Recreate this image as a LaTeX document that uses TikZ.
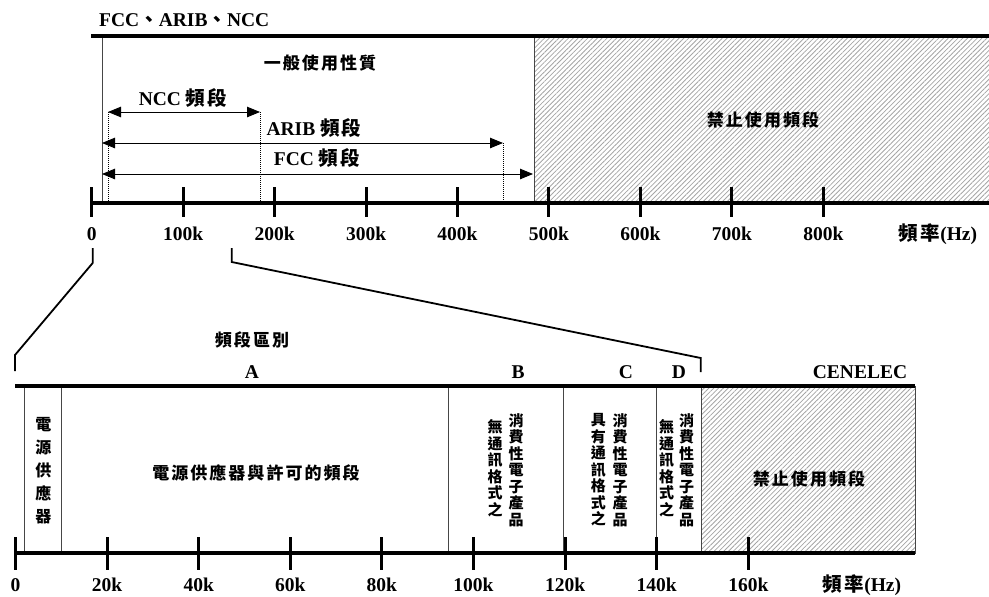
\documentclass[tikz,border=0pt]{standalone}
\usepackage{fontspec}
\setmainfont{Liberation Serif}
\newfontfamily\zhfont{Noto Sans CJK TC}[LetterSpace=12]
\newfontfamily\zhvfont{Noto Sans CJK TC}
\usetikzlibrary{arrows.meta,patterns.meta}
\definecolor{hatchGray}{RGB}{165,165,165}
\definecolor{edgeGray}{RGB}{70,70,70}
\newcommand{\zh}[1]{{\zhfont #1}}

\begin{document}
\begin{tikzpicture}[x=1pt,y=-1pt,
  axisline/.style={line width=3.4pt},
  tickmark/.style={line width=3pt},
  bandline/.style={line width=0.8pt,draw=edgeGray},
  hatchbox/.style={pattern={Lines[angle=45,distance=3.4pt,line width=0.8pt]},pattern color=hatchGray,draw=edgeGray,line width=0.8pt},
  lbl/.style={font=\bfseries\fontsize{19.5}{21}\selectfont,inner sep=0pt},
  zhlbl/.style={font=\zhfont\bfseries\fontsize{17}{19}\selectfont,inner sep=0pt},
  vcol/.style={align=center,inner sep=0pt,font=\zhvfont\bfseries\fontsize{15}{16.5}\selectfont},
  rangearrow/.style={{Triangle[length=13pt,width=10.5pt]}-{Triangle[length=13pt,width=10.5pt]},line width=0.9pt},
  dropline/.style={densely dotted,line width=1pt},
  zoomline/.style={line width=1.8pt}]
\useasboundingbox (0,0) rectangle (989,597);

\path[hatchbox] (534,36) rectangle (989,203);
\draw[bandline] (102,36) -- (102,203);
\draw[axisline] (91,36) -- (989,36);
\draw[axisline] (91,203) -- (989,203);
\foreach \t [count=\i from 0] in {0,100k,200k,300k,400k,500k,600k,700k,800k} {
  \draw[tickmark] ({91.7+91.45*\i},187) -- ({91.7+91.45*\i},217);
  \node[lbl] (top\i) at ({91.7+91.45*\i},234) {\t};
}
\node[lbl] (topunit) at (938,234) {\zh{頻率}(Hz)};
\node[lbl,anchor=west] (regions) at (99,20) {FCC\zh{、}ARIB\zh{、}NCC};
\node[zhlbl] (general) at (320,63) {一般使用性質};
\node[zhlbl] (banned) at (763,120) {禁止使用頻段};

\coordinate (ncc-l) at (108,112);
\coordinate (ncc-r) at (260,112);
\coordinate (arib-l) at (102,143);
\coordinate (arib-r) at (503,143);
\coordinate (fcc-l) at (102,174);
\coordinate (fcc-r) at (533,174);
\coordinate (ncc-lb) at (108,202);
\coordinate (ncc-rb) at (260,202);
\coordinate (arib-rb) at (503,202);
\draw[dropline] (ncc-l) -- (ncc-lb);
\draw[dropline] (ncc-r) -- (ncc-rb);
\draw[dropline] (arib-r) -- (arib-rb);
\draw[rangearrow] (ncc-l) -- (ncc-r);
\draw[rangearrow] (arib-l) -- (arib-r);
\draw[rangearrow] (fcc-l) -- (fcc-r);
\node[lbl] (ncc) at (183,98) {NCC \zh{頻段}};
\node[lbl] (arib) at (314,128) {ARIB \zh{頻段}};
\node[lbl] (fcc) at (317,158) {FCC \zh{頻段}};

\draw[zoomline] (92.7,248) -- (92.7,263) -- (15,355) -- (15,371);
\draw[zoomline] (231.7,248) -- (231.7,262) -- (700.7,358) -- (700.7,372);

\path[hatchbox] (701,386) rectangle (915,553);
\foreach \x in {24.5,61,448,563,656}
  \draw[bandline] (\x,386) -- (\x,553);
\draw[axisline] (15,386) -- (915,386);
\draw[axisline] (15,553) -- (915,553);
\foreach \t [count=\i from 0] in {0,20k,40k,60k,80k,100k,120k,140k,160k} {
  \draw[tickmark] ({15.5+91.6*\i},537) -- ({15.5+91.6*\i},570);
  \node[lbl] (bot\i) at ({15.5+91.6*\i},585) {\t};
}
\node[lbl] (botunit) at (862,585) {\zh{頻率}(Hz)};
\node[zhlbl] (classes) at (252,340) {頻段區別};
\node[lbl] (clsA) at (252,372) {A};
\node[lbl] (clsB) at (518,372) {B};
\node[lbl] (clsC) at (626,372) {C};
\node[lbl] (clsD) at (679,372) {D};
\node[lbl] (cenelec) at (860,372) {CENELEC};

\node[vcol,font=\zhvfont\bfseries\fontsize{16}{23}\selectfont] (psu) at (43.3,471) {電\\源\\供\\應\\器};
\node[zhlbl] (bandA) at (256,473) {電源供應器與許可的頻段};
\node[vcol] (bandB-r) at (516,470) {消\\費\\性\\電\\子\\產\\品};
\node[vcol] (bandB-l) at (495,468) {無\\通\\訊\\格\\式\\之};
\node[vcol] (bandC-r) at (620,470) {消\\費\\性\\電\\子\\產\\品};
\node[vcol] (bandC-l) at (598.3,470) {具\\有\\通\\訊\\格\\式\\之};
\node[vcol] (bandD-r) at (686.7,470) {消\\費\\性\\電\\子\\產\\品};
\node[vcol] (bandD-l) at (666.7,468) {無\\通\\訊\\格\\式\\之};
\node[zhlbl] (bannedB) at (809,479) {禁止使用頻段};
\end{tikzpicture}
\end{document}
